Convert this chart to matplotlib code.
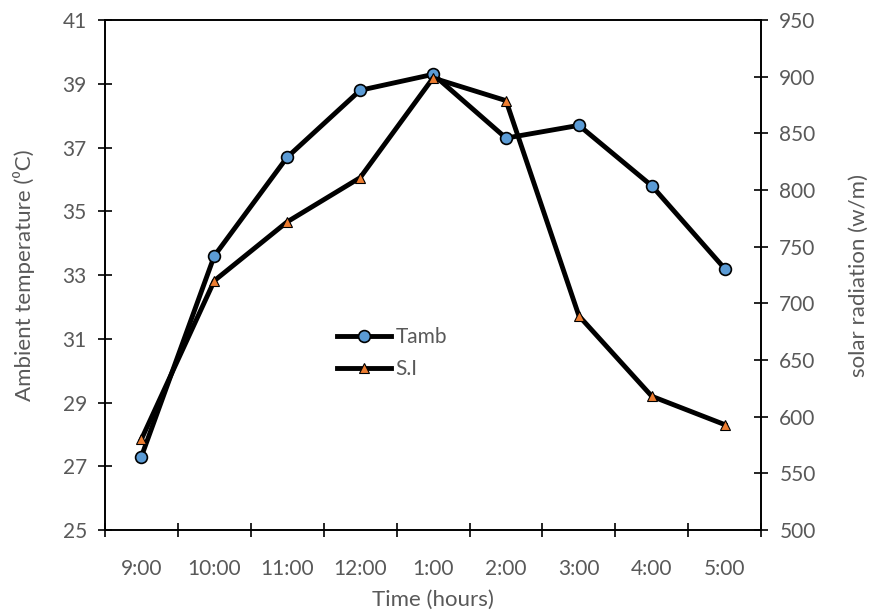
import numpy as np
import matplotlib
matplotlib.use('Agg')
import matplotlib.pyplot as plt

plt.rcParams['font.family'] = ['Lato', 'DejaVu Sans']

times = ['9:00', '10:00', '11:00', '12:00', '1:00', '2:00', '3:00', '4:00', '5:00']
tamb = [27.3, 33.6, 36.7, 38.8, 39.3, 37.3, 37.7, 35.8, 33.2]
si = [580, 720, 772, 811, 899, 879, 689, 618, 593]

grey = '#595959'

fig = plt.figure(figsize=(8.74, 6.12), dpi=100)
ax = fig.add_axes([0.120, 0.134, 0.751, 0.833])
ax2 = ax.twinx()

x = np.arange(len(times))
l1, = ax.plot(x, tamb, color='black', lw=3.5, marker='o', ms=8.5,
              mfc='#5B9BD5', mec='black', mew=1.2, label='Tamb', zorder=3)
l2, = ax2.plot(x, si, color='black', lw=3.5, marker='^', ms=7,
               mfc='#ED7D31', mec='black', mew=0.8, label='S.I', zorder=3)

ax.set_xlim(-0.5, len(times) - 0.5)
ax.set_ylim(25, 41)
ax.set_yticks(np.arange(25, 42, 2))
ax2.set_ylim(500, 950)
ax2.set_yticks(np.arange(500, 951, 50))

# category boundaries as major ticks, labels at centres
ax.set_xticks(np.arange(-0.5, len(times), 1.0))
ax.set_xticklabels([])
ax.set_xticks(x, minor=True)
ax.set_xticklabels(times, minor=True)
ax.tick_params(axis='x', which='minor', length=0, pad=21, labelsize=15, labelcolor=grey)
ax.tick_params(axis='x', which='major', direction='inout', length=10, width=1.2)
ax.tick_params(axis='y', direction='inout', length=10, width=1.2, labelsize=15,
               labelcolor=grey, pad=8)
ax2.tick_params(axis='y', direction='inout', length=10, width=1.2, labelsize=15,
                labelcolor=grey, pad=8)

for a in (ax, ax2):
    for s in a.spines.values():
        s.set_linewidth(1.2)
        s.set_color('black')

ax.set_xlabel('Time (hours)', fontsize=16, color=grey, labelpad=8)
ax.set_ylabel('Ambient temperature (⁰C)', fontsize=16, color=grey, labelpad=20)
ax2.set_ylabel('solar radiation (w/m)', fontsize=16, color=grey, labelpad=24)

leg = ax.legend(handles=[l1, l2], loc='center left', bbox_to_anchor=(0.325, 0.347),
                frameon=False, fontsize=15, handlelength=2.6, handletextpad=0.2,
                labelspacing=0.55)
for t in leg.get_texts():
    t.set_color(grey)

fig.savefig('out.png', dpi=100)
